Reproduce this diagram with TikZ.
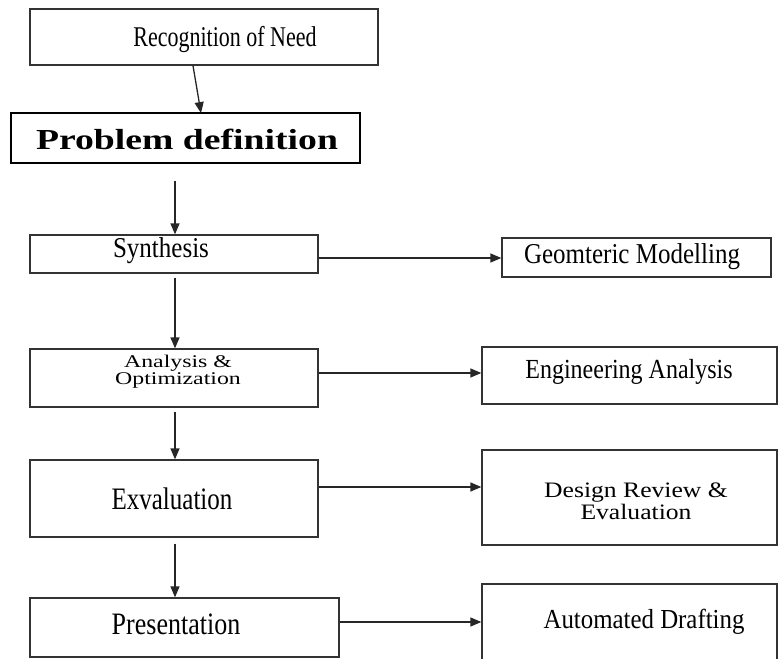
\documentclass[tikz,border=0pt]{standalone}
\usepackage{fontspec}
\setmainfont{Liberation Serif}
\usetikzlibrary{arrows.meta}
\tikzset{
  box/.style={draw=black!80, line width=1.3pt, fill=white, inner sep=0pt, rectangle},
  lbl/.style={inner sep=0pt, align=center, text=black},
  arr/.style={draw=black!85, line width=1.3pt, -{Triangle[length=11pt,width=9pt]}},
}
\newcommand{\fs}[2]{\fontsize{#1}{#2}\selectfont}
\begin{document}
\begin{tikzpicture}[x=1pt,y=-1pt]
\useasboundingbox (0,0) rectangle (778,658);
\clip (0,0) rectangle (778,658);
% left column boxes
\node[box, minimum width=348pt, minimum height=56pt] (rec) at (204,37) {};
\node[box, draw=black, line width=1.8pt, minimum width=349pt, minimum height=50pt] (prob) at (185.5,138) {};
\node[box, minimum width=288pt, minimum height=38pt] (syn) at (174,254) {};
\node[box, minimum width=288pt, minimum height=58pt] (ana) at (174,378) {};
\node[box, minimum width=288pt, minimum height=77pt] (eva) at (174,498.5) {};
\node[box, minimum width=309pt, minimum height=59pt] (pre) at (184.5,627.5) {};
% right column boxes
\node[box, minimum width=269pt, minimum height=39pt] (geo) at (636.5,257.5) {};
\node[box, minimum width=295pt, minimum height=57pt] (eng) at (629.5,375.5) {};
\node[box, minimum width=295pt, minimum height=95pt] (des) at (629.5,497.5) {};
\node[box, minimum width=295pt, minimum height=116pt] (aut) at (629.5,642) {};
% labels
\node[lbl] (trec) at (225,40) {\scalebox{1}[1.3]{\fs{22}{24}Recognition of Need}};
\node[lbl] (tprob) at (187,139) {\scalebox{1.3}[1]{\fs{29}{30}\bfseries Problem definition}};
\node[lbl] (tsyn) at (161,251) {\scalebox{1}[1.15]{\fs{25}{27}Synthesis}};
\node[lbl] (tana) at (178,372) {\scalebox{1.4}[1.05]{\fs{17}{16}\begin{tabular}{@{}c@{}}Analysis \&\\Optimization\end{tabular}}};
\node[lbl] (teva) at (172,499) {\scalebox{1}[1.25]{\fs{25}{27}Exvaluation}};
\node[lbl] (tpre) at (176,624) {\scalebox{1}[1.2]{\fs{26}{28}Presentation}};
\node[lbl] (tgeo) at (632,257) {\scalebox{1}[1.15]{\fs{25}{27}Geomteric Modelling}};
\node[lbl] (teng) at (629,372) {\scalebox{1}[1.15]{\fs{24}{26}Engineering Analysis}};
\node[lbl] (tdes) at (636,504) {\scalebox{1.22}[1.05]{\fs{21}{21}\begin{tabular}{@{}c@{}}Design Review \&\\Evaluation\end{tabular}}};
\node[lbl] (taut) at (644,622) {\scalebox{1.13}[1.25]{\fs{22}{24}Automated Drafting}};
% vertical connectors
\draw[arr] ([xshift=-11pt]rec.south) -- ([xshift=15.5pt,yshift=-1pt]prob.north);
\draw[arr] ([xshift=-10.5pt,yshift=-17pt]prob.south) -- ([xshift=1pt]syn.north);
\draw[arr] ([xshift=1pt,yshift=-4pt]syn.south) -- ([xshift=1pt]ana.north);
\draw[arr] ([xshift=1pt,yshift=-4pt]ana.south) -- ([xshift=1pt]eva.north);
\draw[arr] ([xshift=1pt,yshift=-6pt]eva.south) -- ([xshift=-9.5pt]pre.north);
% horizontal connectors
\draw[arr] (syn.east |- 0,258) -- (geo.west |- 0,258);
\draw[arr] (ana.east |- 0,373) -- (eng.west |- 0,373);
\draw[arr] (eva.east |- 0,487) -- (des.west |- 0,487);
\draw[arr] (pre.east |- 0,622) -- (aut.west |- 0,622);
\end{tikzpicture}
\end{document}
